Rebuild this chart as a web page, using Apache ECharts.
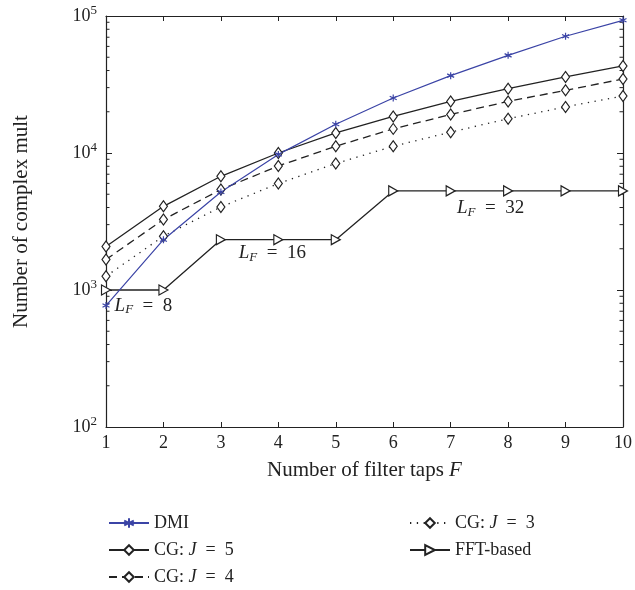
<!DOCTYPE html>
<html><head><meta charset="utf-8">
<script src="https://cdn.jsdelivr.net/npm/echarts@6/dist/echarts.min.js"></script>
<style>html,body{margin:0;padding:0;background:#fff}#c{width:635px;height:590px}</style>
</head><body><div id="c"></div>
<script>
const taps = [1,2,3,4,5,6,7,8,9,10];
const dmi  = [770, 2330, 5190, 9770, 16200, 25200, 36700, 51600, 71100, 93000];
const cg5  = [2080, 4080, 6760, 10000, 14000, 18500, 23800, 29500, 35900, 43200];
const cg4  = [1670, 3270, 5410, 8040, 11200, 15000, 19100, 23800, 28700, 34700];
const cg3  = [1260, 2470, 4040, 5990, 8380, 11200, 14200, 17800, 21700, 26100];
const fft  = [1000, 1000, 2330, 2330, 2330, 5290, 5290, 5290, 5290, 5290];
const notes = [
  {x: 1.15, y: 770, t: '8'},
  {x: 3.31, y: 1850, t: '16'},
  {x: 7.11, y: 3950, t: '32'}
];

const FONT = '"Liberation Serif","DejaVu Serif",serif';
const minor = [];
for (let d = 100; d < 100000; d *= 10) for (let k = 2; k <= 9; k++) minor.push(d * k);

const pair = a => taps.map((x, i) => [x, a[i]]);
const star = 'path://M0,-10L0,10M-8.66,-5L8.66,5M-8.66,5L8.66,-5';
const lfRich = {
  i: {fontFamily: FONT, fontSize: 19, fontStyle: 'italic', color: '#222'},
  s: {fontFamily: FONT, fontSize: 13, fontStyle: 'italic', color: '#222', padding: [9,0,0,0]},
  n: {fontFamily: FONT, fontSize: 19, color: '#222'}
};
const legRich = {
  j: {fontFamily: FONT, fontSize: 18, fontStyle: 'italic', color: '#222'},
  n: {fontFamily: FONT, fontSize: 18, color: '#222'}
};
const legFmt = n => n.startsWith('CG') ? '{n|CG: }{j|J}{n|\u2002=\u2002' + n.slice(8) + '}' : '{n|' + n + '}';

const chart = echarts.init(document.getElementById('c'));
chart.setOption({
  animation: false,
  textStyle: {fontFamily: FONT},
  grid: {left: 106, right: 8, top: 16, bottom: 163},
  legend: [
    {orient: 'vertical', left: 103, top: 509, height: 100, itemWidth: 40, itemHeight: 12, itemGap: 9,
     data: ['DMI', 'CG: J = 5', 'CG: J = 4'], formatter: legFmt,
     textStyle: {rich: legRich, fontFamily: FONT, fontSize: 18, color: '#222'}},
    {orient: 'vertical', left: 404, top: 509, height: 100, itemWidth: 40, itemHeight: 12, itemGap: 9,
     data: ['CG: J = 3', 'FFT-based'], formatter: legFmt,
     textStyle: {rich: legRich, fontFamily: FONT, fontSize: 18, color: '#222'}}
  ],
  xAxis: [
    {type: 'value', min: 1, max: 10, interval: 1,
     name: 'Number of filter taps {f|F}', nameLocation: 'middle', nameGap: 33,
     nameTextStyle: {fontFamily: FONT, fontSize: 21, color: '#222',
       rich: {f: {fontFamily: FONT, fontSize: 21, fontStyle: 'italic', color: '#222'}}},
     axisLine: {lineStyle: {color: '#222', width: 1.2}},
     axisTick: {inside: true, length: 5, lineStyle: {color: '#222'}},
     axisLabel: {fontFamily: FONT, fontSize: 18, color: '#222', margin: 7},
     splitLine: {show: false}},
    {type: 'value', min: 1, max: 10, interval: 1, position: 'top',
     axisLine: {show: true, lineStyle: {color: '#222', width: 1.2}},
     axisTick: {inside: true, length: 5, lineStyle: {color: '#222'}},
     axisLabel: {show: false}, splitLine: {show: false}}
  ],
  yAxis: [
    {type: 'log', logBase: 10, min: 100, max: 100000,
     name: 'Number of complex mult', nameLocation: 'middle', nameGap: 74,
     nameTextStyle: {fontFamily: FONT, fontSize: 21, color: '#222'},
     axisLine: {show: true, lineStyle: {color: '#222', width: 1.2}},
     axisTick: {inside: true, length: 6, lineStyle: {color: '#222'}},
     axisLabel: {margin: 9, formatter: v => '{b|10}{e|' + Math.round(Math.log10(v)) + '}',
       rich: {b: {fontFamily: FONT, fontSize: 18, color: '#222'},
              e: {fontFamily: FONT, fontSize: 13, color: '#222', padding: [0,0,10,0]}}},
     splitLine: {show: false}},
    {type: 'log', logBase: 10, min: 100, max: 100000, position: 'right',
     axisLine: {show: true, lineStyle: {color: '#222', width: 1.2}},
     axisTick: {inside: true, length: 6, lineStyle: {color: '#222'}},
     axisLabel: {show: false}, splitLine: {show: false}}
  ],
  series: [
    {type: 'custom', silent: true, data: minor.map(v => [1, v]), clip: false,
     renderItem: (params, api) => {
       const cs = params.coordSys;
       const y = api.coord([1, api.value(1)])[1];
       return {type: 'group', children: [
         {type: 'line', shape: {x1: cs.x, y1: y, x2: cs.x + 3.5, y2: y}, style: {stroke: '#222', lineWidth: 1}},
         {type: 'line', shape: {x1: cs.x + cs.width, y1: y, x2: cs.x + cs.width - 3.5, y2: y}, style: {stroke: '#222', lineWidth: 1}}
       ]};
     }},
    {name: 'FFT-based', type: 'line', data: pair(fft), symbol: 'triangle', symbolRotate: -90, symbolSize: [10, 9],
     lineStyle: {color: '#222', width: 1.3}, itemStyle: {color: '#fff', borderColor: '#222', borderWidth: 1.2},
     markPoint: {symbol: 'circle', symbolSize: 0, silent: true,
       data: notes.map(n => ({coord: [n.x, n.y], value: n.t})),
       label: {show: true, position: 'right', distance: 0,
         formatter: p => '{i|L}{s|F}{n|\u2002=\u2002' + p.value + '}', rich: lfRich}}},
    {name: 'CG: J = 3', type: 'line', data: pair(cg3), symbol: 'diamond', symbolSize: [8, 11],
     lineStyle: {color: '#222', width: 1.3, type: [1.3, 5.5]}, itemStyle: {color: '#fff', borderColor: '#222', borderWidth: 1.2}},
    {name: 'CG: J = 4', type: 'line', data: pair(cg4), symbol: 'diamond', symbolSize: [8, 11],
     lineStyle: {color: '#222', width: 1.3, type: [8, 5]}, itemStyle: {color: '#fff', borderColor: '#222', borderWidth: 1.2}},
    {name: 'CG: J = 5', type: 'line', data: pair(cg5), symbol: 'diamond', symbolSize: [8, 11],
     lineStyle: {color: '#222', width: 1.3}, itemStyle: {color: '#fff', borderColor: '#222', borderWidth: 1.2}},
    {name: 'DMI', type: 'line', data: pair(dmi), symbol: star, symbolSize: 7,
     lineStyle: {color: '#3b44a6', width: 1.2}, itemStyle: {color: '#3b44a6', borderColor: '#3b44a6', borderWidth: 1.2}}
  ]
});
</script></body></html>
